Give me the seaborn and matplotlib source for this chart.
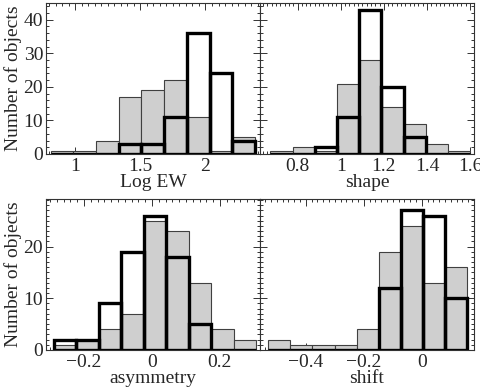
import numpy as np
import pandas as pd
import seaborn as sns
import matplotlib
matplotlib.use("Agg")
import matplotlib.pyplot as plt
from matplotlib.ticker import MultipleLocator, FuncFormatter

sns.set_style("ticks")
plt.rcParams['font.family'] = ['Liberation Serif', 'DejaVu Serif']
plt.rcParams['axes.unicode_minus'] = True

# bin edges and counts
logew_edges = [0.813, 0.987, 1.161, 1.335, 1.509, 1.683, 1.857, 2.031, 2.205, 2.379]
logew_gray = [1, 1, 4, 17, 19, 22, 11, 1, 5]
logew_black = [0, 0, 0, 3, 3, 11, 36, 24, 4]

shape_edges = [0.674, 0.777, 0.880, 0.983, 1.086, 1.189, 1.292, 1.395, 1.498, 1.601]
shape_gray = [1, 2, 1, 21, 28, 14, 9, 3, 1]
shape_black = [0, 0, 2, 11, 43, 20, 5, 0, 0]

asym_edges = [-0.289, -0.223, -0.157, -0.090, -0.024, 0.042, 0.108, 0.174, 0.241, 0.307]
asym_gray = [1, 2, 4, 7, 25, 23, 13, 4, 2]
asym_black = [2, 2, 9, 19, 26, 18, 5, 0, 0]

shift_edges = [-0.530, -0.454, -0.377, -0.301, -0.224, -0.148, -0.072, 0.005, 0.081, 0.157]
shift_gray = [2, 1, 1, 1, 4, 19, 24, 13, 16]
shift_black = [0, 0, 0, 0, 0, 12, 27, 26, 10]

panels = [
    ("Log EW", logew_edges, logew_gray, logew_black, (0.777, 2.418), 0.5, 0.05),
    ("shape", shape_edges, shape_gray, shape_black, (0.626, 1.618), 0.2, 0.02),
    ("asymmetry", asym_edges, asym_gray, asym_black, (-0.312, 0.318), 0.2, 0.02),
    ("shift", shift_edges, shift_gray, shift_black, (-0.558, 0.180), 0.2, 0.02),
]

def fmt(v, pos):
    s = "%g" % round(v, 3)
    if s == "-0":
        s = "0"
    return s.replace("-", "\u2212")

fig = plt.figure(figsize=(4.8, 3.92), dpi=100)
W, H = 480, 392
boxes = [(46, 3), (260, 3), (46, 199), (260, 199)]
pw, ph = 214, 151
fs = 14

for i, (label, edges, gray, black, xlim, major, minor) in enumerate(panels):
    x0, y0 = boxes[i]
    ax = fig.add_axes([x0 / W, 1 - (y0 + ph) / H, pw / W, ph / H])
    e = np.array(edges)
    df = pd.DataFrame({"x": (e[:-1] + e[1:]) / 2, "gray": gray, "black": black})
    sns.histplot(data=df, x="x", weights="gray", bins=list(edges), ax=ax,
                 color="#cfcfcf", edgecolor="#404040", linewidth=0.8, alpha=1)
    sns.histplot(data=df, x="x", weights="black", bins=list(edges), ax=ax,
                 fill=False, color="black", linewidth=2.4)
    ax.set_xlim(*xlim)
    top = i < 2
    ax.set_ylim(0, 45 if top else 29.2)
    ax.xaxis.set_major_locator(MultipleLocator(major))
    ax.xaxis.set_minor_locator(MultipleLocator(minor))
    ax.xaxis.set_major_formatter(FuncFormatter(fmt))
    ax.yaxis.set_major_locator(MultipleLocator(10))
    ax.yaxis.set_minor_locator(MultipleLocator(2 if top else 1))
    ax.tick_params(which="both", direction="in", top=True, right=True,
                   labelsize=fs, width=0.7, color="#333333")
    ax.tick_params(axis="x", pad=3)
    ax.tick_params(axis="y", pad=2)
    ax.tick_params(which="major", length=5)
    ax.tick_params(which="minor", length=2.5)
    for s in ax.spines.values():
        s.set_linewidth(0.8)
        s.set_color("#333333")
    ax.set_xlabel(label, fontsize=fs, labelpad=-1)
    if i % 2 == 0:
        ax.set_ylabel("Number of objects", fontsize=fs, labelpad=1)
    else:
        ax.set_ylabel("")
        ax.tick_params(labelleft=False)

fig.savefig("out.png", dpi=100)
